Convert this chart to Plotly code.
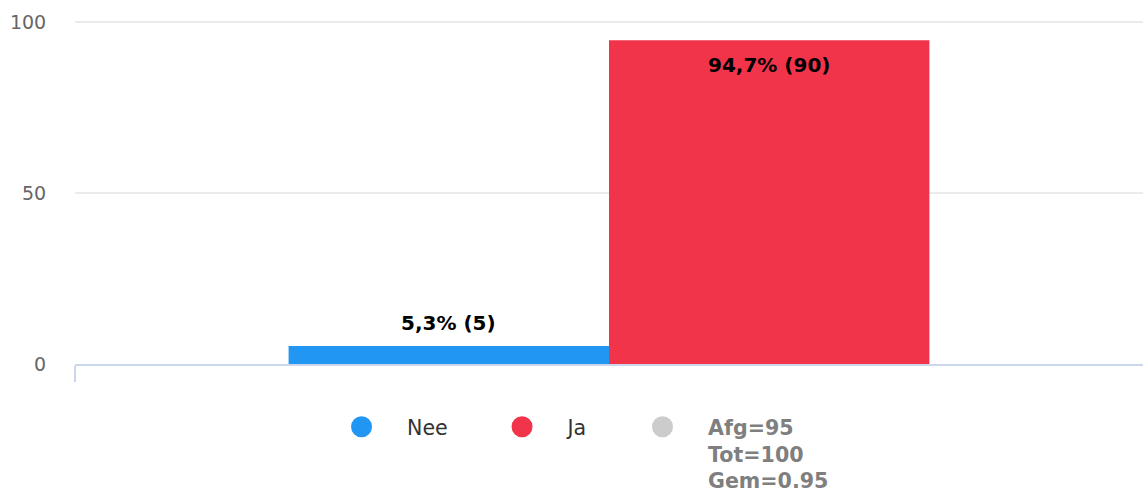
import plotly.graph_objects as go

categories = ["Nee", "Ja"]
percentages = [5.3, 94.7]
counts = [5, 90]
colors = ["#2196f3", "#f1344a"]
stats_label = "Afg=95<br>Tot=100<br>Gem=0.95"
stats_color = "#cccccc"
y_ticks = [0, 50, 100]

FONT = "DejaVu Sans"
PAD = "\u00a0\u00a0\u00a0\u2009"
fig = go.Figure()

offsets = [-0.15, 0.15]
for i, cat in enumerate(categories):
    fig.add_trace(go.Bar(
        x=[0], y=[percentages[i]], name=cat,
        marker=dict(color=colors[i], line=dict(width=0)),
        showlegend=False, offsetgroup=str(i), hoverinfo="skip"))

for i, cat in enumerate(categories):
    fig.add_trace(go.Scatter(
        x=[None], y=[None], mode="markers", name=cat + PAD,
        marker=dict(color=colors[i], size=16, symbol="circle",
                    line=dict(color=colors[i], width=5)),
        showlegend=True))
fig.add_trace(go.Scatter(
    x=[None], y=[None], mode="markers",
    name='<b><span style="color:#7f7f7f">' + stats_label + '</span></b>',
    marker=dict(color=stats_color, size=16, symbol="circle",
                line=dict(color=stats_color, width=5)),
    showlegend=True))

# data labels
for i, cat in enumerate(categories):
    label = f"{percentages[i]:.1f}".replace(".", ",") + f"% ({counts[i]})"
    inside = percentages[i] > 50
    fig.add_annotation(
        x=offsets[i], y=percentages[i], xref="x", yref="y",
        text=f"<b>{label}</b>", showarrow=False,
        font=dict(family=FONT, size=20, color="#000000"),
        yanchor="middle", yshift=(-25 if inside else 23))

fig.update_layout(
    width=1143, height=492,
    margin=dict(l=75, r=0, t=21, b=128, pad=0, autoexpand=False),
    paper_bgcolor="white", plot_bgcolor="white",
    barmode="group", bargap=0.4, bargroupgap=0,
    font=dict(family=FONT, color="#333333"),
    showlegend=True,
    legend=dict(orientation="h", x=0.2257, xanchor="left", y=-0.125, yanchor="top",
                font=dict(family=FONT, size=20.6, color="#333333"),
                valign="top", itemwidth=81, itemclick=False,
                traceorder="normal", bgcolor="rgba(0,0,0,0)"),
    xaxis=dict(range=[-0.5, 0.5], showgrid=False, zeroline=False,
               showline=True, linecolor="#ccd6eb", linewidth=2,
               tickvals=[-0.5], ticks="outside", ticklen=16, tickwidth=2,
               tickcolor="#ccd6eb", showticklabels=False, fixedrange=True),
    yaxis=dict(range=[0, 100.3], tickvals=y_ticks, showgrid=True,
               gridcolor="#ebebeb", gridwidth=2,
               zeroline=False, showline=False,
               ticks="outside", ticklen=24, tickcolor="rgba(0,0,0,0)",
               tickfont=dict(family=FONT, size=19, color="#666666")),
)

fig.write_html("out.html", config={"displayModeBar": False},
               post_script="document.body.style.margin='0';")
